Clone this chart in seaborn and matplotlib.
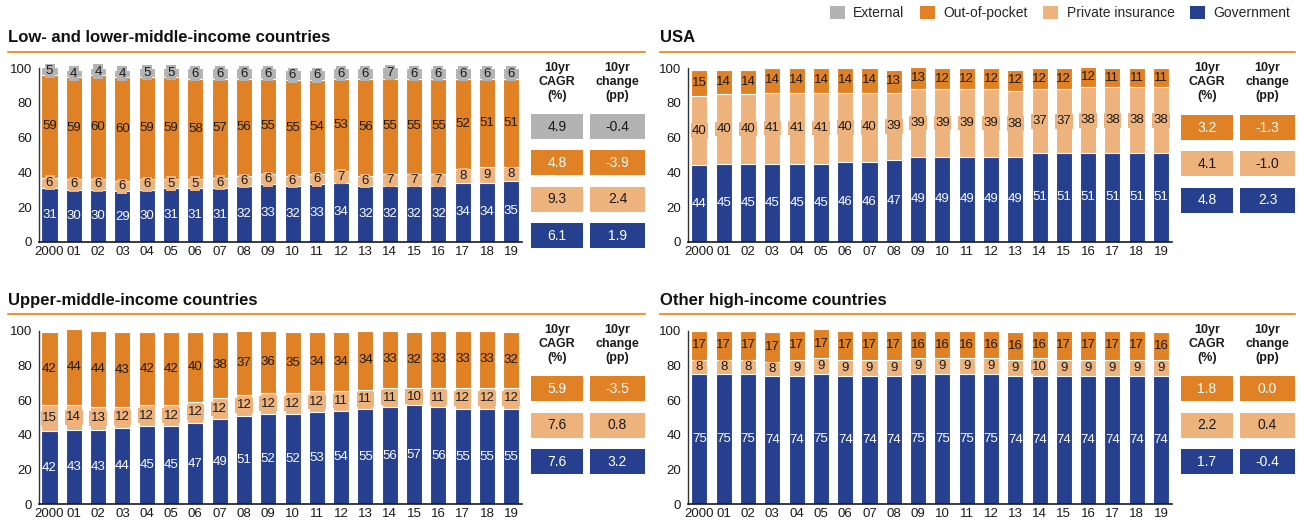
import matplotlib
matplotlib.use("Agg")
import matplotlib.pyplot as plt
from matplotlib.patches import Rectangle, Patch
import numpy as np
import pandas as pd
import seaborn as sns

years = ["2000", "01", "02", "03", "04", "05", "06", "07", "08", "09",
         "10", "11", "12", "13", "14", "15", "16", "17", "18", "19"]
layers = ["Government", "Private insurance", "Out-of-pocket", "External"]
colors = {"Government": "#26408F", "Private insurance": "#EEB37D",
          "Out-of-pocket": "#E08126", "External": "#B3B3B3"}
text_colors = {"Government": "white", "Private insurance": "#1a1a1a",
               "Out-of-pocket": "#1a1a1a", "External": "#1a1a1a"}
table_text = {"Government": "white", "Private insurance": "#1a1a1a",
              "Out-of-pocket": "white", "External": "#1a1a1a"}

# Low- and lower-middle-income countries
low_gov = [31, 30, 30, 29, 30, 31, 31, 31, 32, 33, 32, 33, 34, 32, 32, 32, 32, 34, 34, 35]
low_pri = [6, 6, 6, 6, 6, 5, 5, 6, 6, 6, 6, 6, 7, 6, 7, 7, 7, 8, 9, 8]
low_oop = [59, 59, 60, 60, 59, 59, 58, 57, 56, 55, 55, 54, 53, 56, 55, 55, 55, 52, 51, 51]
low_ext = [5, 4, 4, 4, 5, 5, 6, 6, 6, 6, 6, 6, 6, 6, 7, 6, 6, 6, 6, 6]
low_cagr = [4.9, 4.8, 9.3, 6.1]
low_change = [-0.4, -3.9, 2.4, 1.9]

# USA
usa_gov = [44, 45, 45, 45, 45, 45, 46, 46, 47, 49, 49, 49, 49, 49, 51, 51, 51, 51, 51, 51]
usa_pri = [40, 40, 40, 41, 41, 41, 40, 40, 39, 39, 39, 39, 39, 38, 37, 37, 38, 38, 38, 38]
usa_oop = [15, 14, 14, 14, 14, 14, 14, 14, 13, 13, 12, 12, 12, 12, 12, 12, 12, 11, 11, 11]
usa_cagr = [3.2, 4.1, 4.8]
usa_change = [-1.3, -1.0, 2.3]

# Upper-middle-income countries
um_gov = [42, 43, 43, 44, 45, 45, 47, 49, 51, 52, 52, 53, 54, 55, 56, 57, 56, 55, 55, 55]
um_pri = [15, 14, 13, 12, 12, 12, 12, 12, 12, 12, 12, 12, 11, 11, 11, 10, 11, 12, 12, 12]
um_oop = [42, 44, 44, 43, 42, 42, 40, 38, 37, 36, 35, 34, 34, 34, 33, 32, 33, 33, 33, 32]
um_cagr = [5.9, 7.6, 7.6]
um_change = [-3.5, 0.8, 3.2]

# Other high-income countries
hi_gov = [75, 75, 75, 74, 74, 75, 74, 74, 74, 75, 75, 75, 75, 74, 74, 74, 74, 74, 74, 74]
hi_pri = [8, 8, 8, 8, 9, 9, 9, 9, 9, 9, 9, 9, 9, 9, 10, 9, 9, 9, 9, 9]
hi_oop = [17, 17, 17, 17, 17, 17, 17, 17, 17, 16, 16, 16, 16, 16, 16, 17, 17, 17, 17, 16]
hi_cagr = [1.8, 2.2, 1.7]
hi_change = [0.0, 0.4, -0.4]

W, H = 1300, 523

sns.set_style("white")
plt.rcParams["font.family"] = ["Liberation Sans", "DejaVu Sans"]

fig = plt.figure(figsize=(W / 100, H / 100), dpi=100)

# overlay in pixel coordinates for titles, rules and tables
ov = fig.add_axes([0, 0, 1, 1], zorder=-1)
ov.set_xlim(0, W)
ov.set_ylim(H, 0)
ov.axis("off")


def px_axes(x0, x1, y_top, y_bot):
    return fig.add_axes([x0 / W, 1 - y_bot / H, (x1 - x0) / W, (y_bot - y_top) / H])


def draw_bars(ax, series, xlim):
    df = pd.DataFrame({"year": years})
    names = [n for n in layers if n in series]
    cum = np.zeros(len(years))
    for n in names:
        df[n] = series[n]
        cum = cum + np.array(series[n])
        df[n + "_top"] = cum
    # draw tallest cumulative first, lower layers over it
    for n in reversed(names):
        sns.barplot(data=df, x="year", y=n + "_top", order=years, color=colors[n],
                    saturation=1, width=0.66, edgecolor="white", linewidth=0.8,
                    errorbar=None, ax=ax)
    for p in ax.patches:
        p.set_clip_on(False)
    for n in names:
        small = n in ("External", "Private insurance")
        for i in range(len(years)):
            v = df[n].iloc[i]
            if v <= 0:
                continue
            yc = df[n + "_top"].iloc[i] - v / 2
            kw = {}
            if small:
                kw["bbox"] = dict(boxstyle="square,pad=0.1", fc=colors[n], ec="none")
            ax.text(i, yc, f"{v:d}", ha="center", va="center", fontsize=9.5,
                    color=text_colors[n], zorder=5, **kw)
    ax.set_xlim(*xlim)
    ax.set_ylim(0, 100)
    ax.set_yticks([0, 20, 40, 60, 80, 100])
    ax.set_xlabel("")
    ax.set_ylabel("")
    ax.tick_params(axis="both", length=0, labelsize=9.5, colors="#1a1a1a")
    ax.tick_params(axis="y", pad=5)
    ax.tick_params(axis="x", pad=3)
    for s in ["top", "right"]:
        ax.spines[s].set_visible(False)
    ax.spines["left"].set_color("#333333")
    ax.spines["bottom"].set_color("#1a1a1a")
    ax.spines["left"].set_linewidth(1.0)
    ax.spines["bottom"].set_linewidth(1.2)
    ax.patch.set_alpha(0)


def draw_table(x_cols, y_first, pitch, head_y, rows, cagr, change):
    heads = ["10yr\nCAGR\n(%)", "10yr\nchange\n(pp)"]
    for (cx0, cx1), head in zip(x_cols, heads):
        ov.text((cx0 + cx1) / 2, head_y, head, ha="center", va="center",
                fontsize=9, fontweight="bold", linespacing=1.2, color="#1a1a1a")
    for k, n in enumerate(rows):
        y0 = y_first + k * pitch
        for (cx0, cx1), val in zip(x_cols, [cagr[k], change[k]]):
            ov.add_patch(Rectangle((cx0, y0), cx1 - cx0, 25, fc=colors[n], ec="none"))
            ov.text((cx0 + cx1) / 2, y0 + 12.8, f"{val:.1f}", ha="center", va="center",
                    fontsize=10, color=table_text[n])


def title(x0, x1, y, rule_y, txt):
    ov.text(x0, y, txt, ha="left", va="center", fontsize=12, fontweight="bold",
            color="#111111")
    ov.plot([x0, x1], [rule_y, rule_y], color="#E8963A", lw=1.5)


# panels
ax1 = px_axes(39.3, 521.7, 68.3, 241.7)
draw_bars(ax1, {"Government": low_gov, "Private insurance": low_pri,
                "Out-of-pocket": low_oop, "External": low_ext}, (-0.42, 19.43))
ax2 = px_axes(688.3, 1171.7, 68.3, 241.7)
draw_bars(ax2, {"Government": usa_gov, "Private insurance": usa_pri,
                "Out-of-pocket": usa_oop}, (-0.46, 19.44))
ax3 = px_axes(39.3, 521.7, 330.7, 504.3)
draw_bars(ax3, {"Government": um_gov, "Private insurance": um_pri,
                "Out-of-pocket": um_oop}, (-0.42, 19.43))
ax4 = px_axes(688.3, 1171.7, 330.7, 504.3)
draw_bars(ax4, {"Government": hi_gov, "Private insurance": hi_pri,
                "Out-of-pocket": hi_oop}, (-0.46, 19.44))

title(8, 645, 38, 52, "Low- and lower-middle-income countries")
title(660, 1295, 38, 52, "USA")
title(8, 645, 300, 314, "Upper-middle-income countries")
title(660, 1295, 300, 314, "Other high-income countries")

left_cols = [(531, 583), (590, 645)]
right_cols = [(1181, 1233), (1240, 1295)]
draw_table(left_cols, 114, 36.3, 82, ["External", "Out-of-pocket", "Private insurance", "Government"],
           low_cagr, low_change)
draw_table(right_cols, 115, 36.3, 82, ["Out-of-pocket", "Private insurance", "Government"],
           usa_cagr, usa_change)
draw_table(left_cols, 376, 36.5, 344, ["Out-of-pocket", "Private insurance", "Government"],
           um_cagr, um_change)
draw_table(right_cols, 376, 36.5, 344, ["Out-of-pocket", "Private insurance", "Government"],
           hi_cagr, hi_change)

legend_order = ["External", "Out-of-pocket", "Private insurance", "Government"]
handles = [Patch(facecolor=colors[n], edgecolor="none", label=n) for n in legend_order]
fig.legend(handles=handles, loc="upper right", bbox_to_anchor=(1293 / W, 1 - 3 / H),
           ncol=4, frameon=False, fontsize=10, handlelength=1.1, handleheight=1.1,
           handletextpad=0.6, columnspacing=1.1, borderaxespad=0, borderpad=0.2)

fig.savefig("out.png", dpi=100)
